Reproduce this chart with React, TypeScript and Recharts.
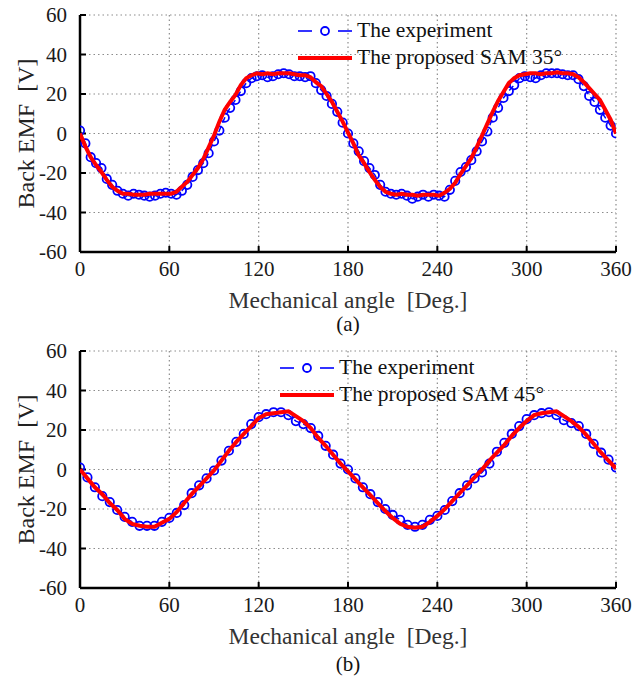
import React from 'react';
import { LineChart, Line, XAxis, YAxis, CartesianGrid, Legend } from 'recharts';

// mechanical angle grid for (a), degrees
const anglesA = [
  0, 3.6, 7.2, 10.8, 14.4, 18, 21.6, 25.2, 28.8, 32.4, 36, 39.6, 43.2, 46.8, 50.4, 54, 57.6, 61.2, 64.8, 68.4,
  72, 75.6, 79.2, 82.8, 86.4, 90, 93.6, 97.2, 100.8, 104.4, 108, 111.6, 115.2, 118.8, 122.4, 126, 129.6, 133.2, 136.8, 140.4,
  144, 147.6, 151.2, 154.8, 158.4, 162, 165.6, 169.2, 172.8, 176.4, 180, 183.6, 187.2, 190.8, 194.4, 198, 201.6, 205.2, 208.8, 212.4,
  216, 219.6, 223.2, 226.8, 230.4, 234, 237.6, 241.2, 244.8, 248.4, 252, 255.6, 259.2, 262.8, 266.4, 270, 273.6, 277.2, 280.8, 284.4,
  288, 291.6, 295.2, 298.8, 302.4, 306, 309.6, 313.2, 316.8, 320.4, 324, 327.6, 331.2, 334.8, 338.4, 342, 345.6, 349.2, 352.8, 356.4,
  360,
];

const experimentA = [
  1.5, -5, -12, -15, -17.5, -23, -26, -29, -30.5, -31.5, -30.5, -31, -31.5, -32, -31.5, -30.5, -30, -30.5, -31, -29,
  -26, -22, -18.5, -15, -10, -4, 1.5, 8, 13, 17, 21.5, 25.5, 28, 29, 29.5, 28.5, 29, 30, 30.5, 30,
  29, 29, 28.5, 29, 25.5, 22, 19, 15, 11, 5.5, 0, -5, -9, -14, -17.5, -21, -26, -29.5, -30.5, -31,
  -30.5, -31.5, -33, -32, -31, -32, -31, -31.5, -32, -28.5, -24, -19.5, -17, -13.5, -9, -4, 1, 8, 13, 18,
  21.5, 24.5, 28, 29, 28.5, 28, 29.5, 30.5, 30.5, 30.5, 30, 29.5, 29.5, 27.5, 24, 19, 16, 12, 8, 4,
  0,
];

const samA = [
  0, -6.5, -12, -16, -19.5, -23.5, -27, -29, -30.5, -30.5, -31, -31, -31, -30.5, -30.5, -30.5, -30.5, -30.5, -29.5, -27,
  -24.5, -21, -17.5, -13, -7, -1, 6, 12, 16, 19.5, 24.5, 28, 29.5, 30.5, 30, 30.5, 30, 30.5, 30.5, 30.5,
  30, 29.5, 29.5, 28.5, 26, 24, 20, 16, 11, 6, 0.5, -5, -11, -15, -19.5, -23.5, -27, -29.5, -30.5, -31,
  -30.5, -31, -31, -31.5, -31, -31, -31, -31.5, -30, -28, -25, -20.5, -16.5, -12.5, -7, -1, 5, 11, 16.5, 21,
  25.5, 28, 29.5, 30, 30.5, 30.5, 30, 30.5, 30.5, 31, 30.5, 30.5, 30, 28.5, 26, 23, 20, 17, 12, 7,
  0,
];

// mechanical angle grid for (b), degrees
const anglesB = [
  0, 5, 10, 15, 20, 25, 30, 35, 40, 45, 50, 55, 60, 65, 70, 75, 80, 85, 90, 95,
  100, 105, 110, 115, 120, 125, 130, 135, 140, 145, 150, 155, 160, 165, 170, 175, 180, 185, 190, 195,
  200, 205, 210, 215, 220, 225, 230, 235, 240, 245, 250, 255, 260, 265, 270, 275, 280, 285, 290, 295,
  300, 305, 310, 315, 320, 325, 330, 335, 340, 345, 350, 355, 360,
];

const experimentB = [
  1, -4, -9, -13.5, -16.5, -20.5, -24, -26.5, -28.5, -28.5, -28.5, -26.5, -24.5, -22, -18, -12, -8, -4.5, -0.5, 4.5,
  9.5, 14, 18, 23, 26.5, 28, 29, 29, 27.5, 24.5, 23, 21, 17, 12, 7.5, 3, 0, -4.5, -9, -12.5,
  -16.5, -20, -23, -25.5, -28, -29, -28, -25.5, -23.5, -20.5, -16, -12, -8, -4.5, -1.5, 3, 9, 13.5, 18, 22,
  25.5, 27.5, 28.5, 29, 27.5, 25, 23.5, 22, 18, 13, 8.5, 5, 1,
];

const samB = [
  0, -4.5, -9, -12.5, -17, -20.5, -25, -27.5, -28.5, -29, -29, -27, -25, -21.5, -17, -12.5, -8.5, -4.5, -0.5, 4.5,
  9.5, 14, 18, 22, 26, 28, 28.5, 29, 29.5, 27, 24.5, 21, 16, 12, 7.5, 3, -1, -5, -9, -13,
  -17, -21, -24.5, -27.5, -29, -29.5, -29, -26.5, -23.5, -20, -16, -12, -8, -4, 0, 4.5, 8.5, 12.5, 17, 21,
  24.5, 27.5, 28.5, 29, 29.5, 27, 24.5, 21.5, 17.5, 13, 8.5, 4.5, 0.5,
];

const xTicks = [0, 60, 120, 180, 240, 300, 360];
const yTicks = [-60, -40, -20, 0, 20, 40, 60];

const dataA = anglesA.map((a, i) => ({ angle: a, exp: experimentA[i], sam: samA[i] }));
const dataB = anglesB.map((a, i) => ({ angle: a, exp: experimentB[i], sam: samB[i] }));

const FONT = '"Liberation Serif", "Times New Roman", serif';
const tickStyle = { fontSize: 21, fill: '#1a1a1a', fontFamily: FONT };

const YLabel = (props: any) => {
  const vb = props.viewBox || {};
  const cx = vb.x + 26;
  const cy = vb.y + vb.height / 2;
  return (
    <text x={cx} y={cy} transform={`rotate(-90 ${cx} ${cy})`} textAnchor="middle" dominantBaseline="central"
      style={{ whiteSpace: 'pre', fontSize: 24, fontFamily: FONT, fill: '#222' }}>
      {'Back EMF  [V]'}
    </text>
  );
};

const XLabel = (props: any) => {
  const vb = props.viewBox || {};
  const cx = vb.x + vb.width / 2;
  const cy = vb.y + 48;
  return (
    <text x={cx} y={cy} textAnchor="middle" dominantBaseline="central"
      style={{ whiteSpace: 'pre', fontSize: 23.5, fontFamily: FONT, fill: '#333' }}>
      {'Mechanical angle  [Deg.]'}
    </text>
  );
};

const ExpDot = (p: any) => {
  if (p.cx == null || p.cy == null) return <g key={p.index} />;
  return <circle key={p.index} cx={p.cx} cy={p.cy} r={4.2} fill="none" stroke="#0000ff" strokeWidth={1.8} />;
};

const LegendBox = ({ angleText }: { angleText: string }) => (
  <div style={{ fontFamily: FONT, fontSize: 21.5, color: '#111', lineHeight: '27px' }}>
    <div style={{ display: 'flex', alignItems: 'center', height: 27, whiteSpace: 'nowrap' }}>
      <svg width={56} height={14} style={{ marginRight: 5 }}>
        <line x1={2} y1={7} x2={16} y2={7} stroke="#0000ff" strokeWidth={1.6} />
        <circle cx={29} cy={7} r={4} fill="none" stroke="#0000ff" strokeWidth={1.8} />
        <line x1={42} y1={7} x2={56} y2={7} stroke="#0000ff" strokeWidth={1.6} />
      </svg>
      <span>The experiment</span>
    </div>
    <div style={{ display: 'flex', alignItems: 'center', height: 27, whiteSpace: 'nowrap' }}>
      <svg width={56} height={14} style={{ marginRight: 5 }}>
        <line x1={2} y1={7} x2={56} y2={7} stroke="#ff0000" strokeWidth={4} />
      </svg>
      <span>{`The proposed SAM ${angleText}`}</span>
    </div>
  </div>
);

const Panel = ({ data, angleText, legendLeft, legendTop }: any) => (
  <LineChart width={644} height={320} data={data} margin={{ top: 15, right: 28, bottom: 0, left: 0 }}>
    <CartesianGrid stroke="#8c8c8c" strokeWidth={1.2} strokeDasharray="1.5 3" />
    <XAxis dataKey="angle" type="number" domain={[0, 360]} ticks={xTicks} allowDataOverflow
      height={68} tickSize={-6} tickMargin={15} tick={tickStyle}
      axisLine={{ stroke: '#000', strokeWidth: 2.5 }} tickLine={{ stroke: '#000', strokeWidth: 2 }}
      label={<XLabel />} />
    <XAxis xAxisId="top" orientation="top" dataKey="angle" type="number" domain={[0, 360]} ticks={xTicks}
      allowDataOverflow height={0} tickSize={-6} tick={false}
      axisLine={{ stroke: '#000', strokeWidth: 2.5 }} tickLine={{ stroke: '#000', strokeWidth: 2 }} />
    <YAxis type="number" domain={[-60, 60]} ticks={yTicks} allowDataOverflow width={80}
      tickSize={-6} tickMargin={19} tick={tickStyle}
      axisLine={{ stroke: '#000', strokeWidth: 2.5 }} tickLine={{ stroke: '#000', strokeWidth: 2 }}
      label={<YLabel />} />
    <YAxis yAxisId="right" orientation="right" type="number" domain={[-60, 60]} ticks={yTicks}
      allowDataOverflow width={0} tickSize={-6} tick={false}
      axisLine={{ stroke: '#000', strokeWidth: 2.5 }} tickLine={{ stroke: '#000', strokeWidth: 2 }} />
    <Legend layout="vertical" align="center" verticalAlign="middle"
      wrapperStyle={{ top: legendTop, left: legendLeft, width: 'auto' }}
      content={() => <LegendBox angleText={angleText} />} />
    <Line dataKey="exp" type="linear" stroke="#0000ff" strokeWidth={1.5} strokeDasharray="6 4"
      dot={ExpDot} isAnimationActive={false} />
    <Line dataKey="sam" type="linear" stroke="#ff0000" strokeWidth={4} dot={false} isAnimationActive={false}
      {...({ zIndex: 1200 } as any)} />
  </LineChart>
);

const captionStyle: React.CSSProperties = {
  position: 'absolute', left: 0, width: 696, textAlign: 'center',
  fontFamily: FONT, fontSize: 21, color: '#111',
};

export default function App() {
  return (
    <div style={{ position: 'absolute', left: 0, top: 0, width: 644, height: 681, background: '#fff' }}>
      <div style={{ position: 'absolute', left: 0, top: 0 }}>
        <Panel data={dataA} angleText="35°" legendLeft={296} legendTop={17} />
      </div>
      <div style={{ ...captionStyle, top: 312 }}>(a)</div>
      <div style={{ position: 'absolute', left: 0, top: 336 }}>
        <Panel data={dataB} angleText="45°" legendLeft={278} legendTop={18} />
      </div>
      <div style={{ ...captionStyle, top: 652 }}>(b)</div>
    </div>
  );
}
